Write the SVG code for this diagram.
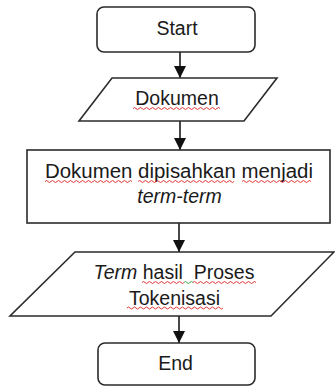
<svg xmlns="http://www.w3.org/2000/svg" width="335" height="387" viewBox="0 0 335 387">
<style>
.shape{fill:#ffffff;stroke:#2b2b2b;stroke-width:1.6}
.t{font-family:"Liberation Sans",Arial,sans-serif;font-size:19.5px;fill:#1a1a1a;text-anchor:middle}
.i{font-style:italic}
.conn{stroke:#1a1a1a;stroke-width:1.6;fill:none}
.sq{fill:none;stroke:#e02020;stroke-width:0.9}
.sqg{fill:none;stroke:#30a030;stroke-width:0.9}
</style>
<defs>
<marker id="ah" markerWidth="12" markerHeight="14" refX="12" refY="6" orient="auto" markerUnits="userSpaceOnUse" viewBox="0 0 12 12">
<path d="M0,0 L12,6 L0,12 z" fill="#111"/>
</marker>
</defs>
<rect width="335" height="387" fill="#ffffff"/>
<g id="connectors">
<line class="conn" x1="180" y1="52" x2="180" y2="78" marker-end="url(#ah)"/>
<line class="conn" x1="180" y1="121" x2="180" y2="150" marker-end="url(#ah)"/>
<line class="conn" x1="179" y1="223" x2="179" y2="252" marker-end="url(#ah)"/>
<line class="conn" x1="179" y1="316" x2="179" y2="343" marker-end="url(#ah)"/>
</g>
<g id="start">
<rect class="shape" x="97" y="7" width="158" height="45" rx="7"/>
<text class="t" x="177" y="35">Start</text>
</g>
<g id="dokumen">
<polygon class="shape" points="112,78 277,78 244,121 79,121"/>
<text class="t" x="177" y="105">Dokumen</text>
<path class="sq" d="M133,108.5 q1.5,-2 3,0 t3,0 t3,0 t3,0 t3,0 t3,0 t3,0 t3,0 t3,0 t3,0 t3,0 t3,0 t3,0 t3,0 t3,0 t3,0 t3,0 t3,0 t3,0 t3,0 t3,0 t3,0 t3,0 t3,0 t3,0 t3,0 t3,0 t3,0 t3,0"/>
</g>
<g id="proses">
<rect class="shape" x="27" y="150" width="303" height="73"/>
<text class="t" x="179" y="178" textLength="268" lengthAdjust="spacingAndGlyphs">Dokumen dipisahkan menjadi</text>
<text class="t i" x="179.5" y="203">term-term</text>
<path class="sq" d="M45,181.5 q1.5,-2 3,0 t3,0 t3,0 t3,0 t3,0 t3,0 t3,0 t3,0 t3,0 t3,0 t3,0 t3,0 t3,0 t3,0 t3,0 t3,0 t3,0 t3,0 t3,0 t3,0 t3,0 t3,0 t3,0 t3,0 t3,0 t3,0 t3,0 t3,0 t3,0"/>
<path class="sq" d="M138,181.5 q1.5,-2 3,0 t3,0 t3,0 t3,0 t3,0 t3,0 t3,0 t3,0 t3,0 t3,0 t3,0 t3,0 t3,0 t3,0 t3,0 t3,0 t3,0 t3,0 t3,0 t3,0 t3,0 t3,0 t3,0 t3,0 t3,0 t3,0 t3,0 t3,0 t3,0 t3,0 t3,0 t3,0"/>
<path class="sq" d="M242,181.5 q1.5,-2 3,0 t3,0 t3,0 t3,0 t3,0 t3,0 t3,0 t3,0 t3,0 t3,0 t3,0 t3,0 t3,0 t3,0 t3,0 t3,0 t3,0 t3,0 t3,0 t3,0 t3,0 t3,0 t3,0"/>
</g>
<g id="hasil">
<polygon class="shape" points="75,252 334,252 271,316 10,316"/>
<text class="t" x="174" y="279"><tspan class="i">Term</tspan> hasil&#160; Proses</text>
<text class="t" x="174.5" y="305">Tokenisasi</text>
<path class="sq" d="M142,282.5 q1.5,-2 3,0 t3,0 t3,0 t3,0 t3,0 t3,0 t3,0 t3,0 t3,0 t3,0 t3,0 t3,0 t3,0 t3,0"/>
<path class="sqg" d="M184,282.5 q1.5,-2 3,0 t3,0 t3,0"/>
<path class="sq" d="M193,282.5 q1.5,-2 3,0 t3,0 t3,0 t3,0 t3,0 t3,0 t3,0 t3,0 t3,0 t3,0 t3,0 t3,0 t3,0 t3,0 t3,0 t3,0 t3,0 t3,0 t3,0 t3,0 t3,0"/>
<path class="sq" d="M127,308 q1.5,-2 3,0 t3,0 t3,0 t3,0 t3,0 t3,0 t3,0 t3,0 t3,0 t3,0 t3,0 t3,0 t3,0 t3,0 t3,0 t3,0 t3,0 t3,0 t3,0 t3,0 t3,0 t3,0 t3,0 t3,0 t3,0 t3,0 t3,0 t3,0 t3,0 t3,0 t3,0 t3,0"/>
</g>
<g id="end">
<rect class="shape" x="98" y="343" width="157" height="42" rx="7"/>
<text class="t" x="175.5" y="370">End</text>
</g>
</svg>
